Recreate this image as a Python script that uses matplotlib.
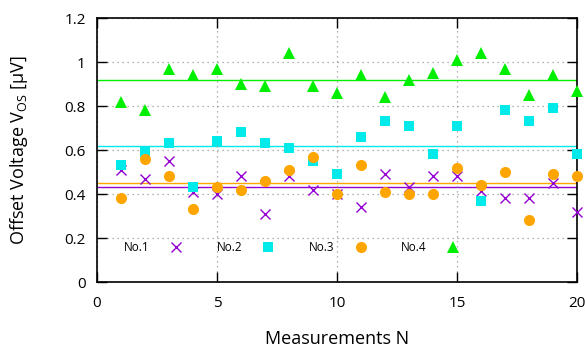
import matplotlib
matplotlib.use("Agg")
import matplotlib.pyplot as plt
import numpy as np

plt.rcParams['font.family'] = ['Open Sans', 'DejaVu Sans']

n = list(range(1, 21))
no1 = [0.51, 0.47, 0.55, 0.41, 0.40, 0.48, 0.31, 0.48, 0.42, 0.40,
       0.34, 0.49, 0.43, 0.48, 0.48, 0.415, 0.38, 0.38, 0.45, 0.32]
no2 = [0.53, 0.59, 0.63, 0.43, 0.64, 0.68, 0.63, 0.61, 0.55, 0.49,
       0.66, 0.73, 0.71, 0.58, 0.71, 0.37, 0.78, 0.73, 0.79, 0.58]
no3 = [0.38, 0.56, 0.48, 0.33, 0.43, 0.42, 0.46, 0.51, 0.57, 0.40,
       0.53, 0.41, 0.40, 0.40, 0.52, 0.44, 0.50, 0.28, 0.49, 0.48]
no4 = [0.82, 0.78, 0.97, 0.94, 0.97, 0.90, 0.89, 1.04, 0.89, 0.86,
       0.94, 0.84, 0.92, 0.95, 1.01, 1.04, 0.97, 0.85, 0.94, 0.87]
means = [0.43, 0.62, 0.45, 0.92]
labels = ["No.1", "No.2", "No.3", "No.4"]
colors = ["#9400D3", "#00EAEA", "#FFA500", "#00EE00"]
markers = ["x", "s", "o", "^"]
sizes = [7, 7, 8, 8.5]

fig = plt.figure(figsize=(5.85, 3.49), dpi=100)
ax = fig.add_axes([97/585, 1-282/349, 480/585, 264/349])

for vals, m, lab, c, mk, ms in zip([no1, no2, no3, no4], means, labels, colors, markers, sizes):
    ax.axhline(m, color=c, lw=1.0, zorder=1)
    ax.plot(n, vals, linestyle='none', marker=mk, color=c, ms=ms,
            mew=1.0 if mk == 'x' else 0, label=lab, zorder=3, clip_on=False)

ax.set_xlim(0, 20)
ax.set_ylim(0, 1.2)
ax.set_xticks([0, 5, 10, 15, 20])
ax.set_yticks([0, 0.2, 0.4, 0.6, 0.8, 1.0, 1.2])
ax.set_yticklabels(["0", "0.2", "0.4", "0.6", "0.8", "1", "1.2"])
ax.grid(True, color='#999999', linestyle=(0, (1, 3)), lw=0.9)
ax.tick_params(direction='in', length=7, width=1.0, top=True, right=True,
               labelsize=11, pad=8, colors='black')
ax.tick_params(axis='x', pad=10)
for s in ax.spines.values():
    s.set_linewidth(1.2)

ax.set_xlabel("Measurements N", fontsize=13, labelpad=14)
ax.set_ylabel(r"Offset Voltage V$_{\mathregular{OS}}$ [µV]", fontsize=13, labelpad=25)

leg = ax.legend(ncol=4, loc='lower left', bbox_to_anchor=(0.057, 0.106),
                frameon=False, markerfirst=False, fontsize=8.5,
                handlelength=1.0, handletextpad=1.7, columnspacing=2.95,
                borderaxespad=0, borderpad=0)

fig.savefig("out.png", dpi=100)
